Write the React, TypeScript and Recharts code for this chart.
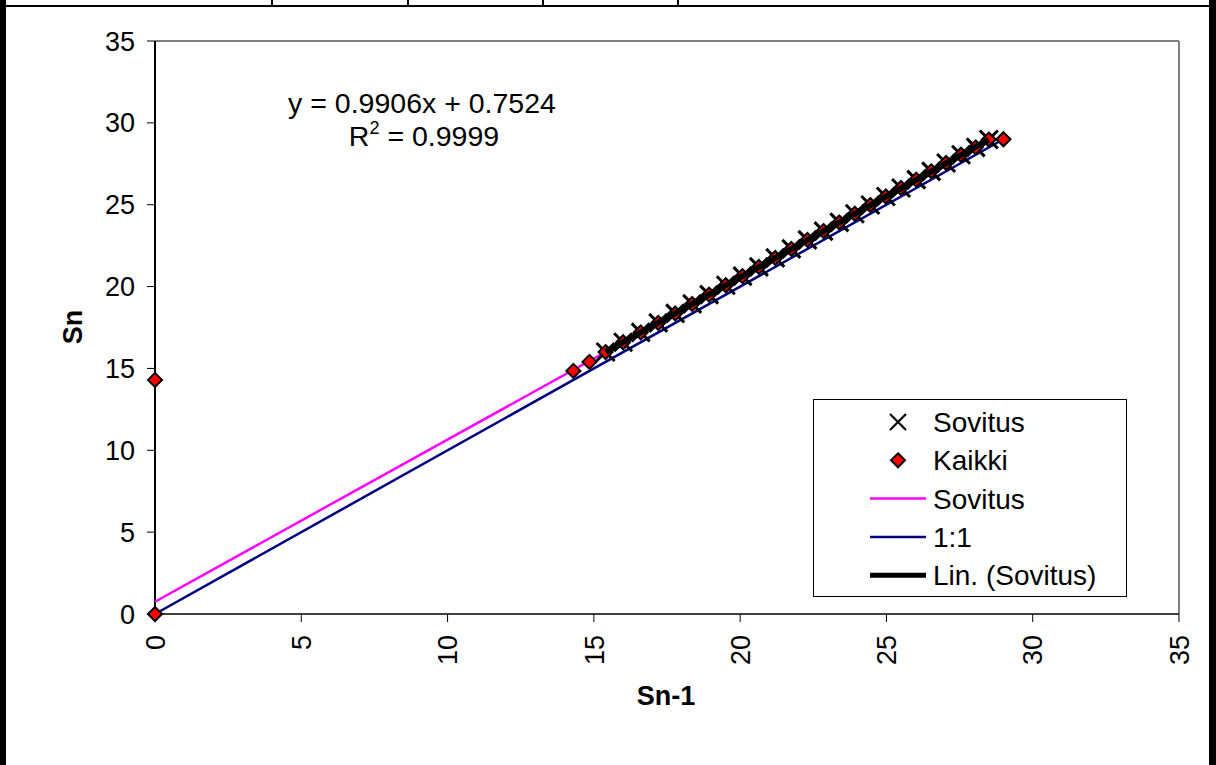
import { ScatterChart, Scatter, XAxis, YAxis, ReferenceLine, Legend, Label } from "recharts";

const FONT = "Arial, 'Liberation Sans', sans-serif";

// Sn-1 / Sn for the fitted points (X markers)
const sovitusSn1 = [15.4, 16.0, 16.6, 17.2, 17.78, 18.36, 18.94, 19.51, 20.08, 20.64, 21.2, 21.75, 22.3, 22.85, 23.39, 23.92, 24.45, 24.98, 25.5, 26.02, 26.53, 27.04, 27.55, 28.05, 28.5];
const sovitusSn = [16.0, 16.6, 17.2, 17.78, 18.36, 18.94, 19.51, 20.08, 20.64, 21.2, 21.75, 22.3, 22.85, 23.39, 23.92, 24.45, 24.98, 25.5, 26.02, 26.53, 27.04, 27.55, 28.05, 28.5, 28.98];

// extra points only in "Kaikki"
const kaikkiStartSn1 = [0, 0, 14.3, 14.85];
const kaikkiStartSn = [0, 14.3, 14.85, 15.4];
const kaikkiEndSn1 = [29.0];
const kaikkiEndSn = [29.0];

// line endpoints
const fitLineX = [0, 28.5];
const fitLineY = [0.75, 28.98];
const oneToOneX = [0, 29];
const oneToOneY = [0, 29];
const trendX = [15.4, 28.5];
const trendY = [16.01, 28.98];

const ticks = [0, 5, 10, 15, 20, 25, 30, 35];

const zip = (xs: number[], ys: number[]) => xs.map((x, i) => ({ x, y: ys[i] }));

const sovitus = zip(sovitusSn1, sovitusSn);
const kaikki = [...zip(kaikkiStartSn1, kaikkiStartSn), ...sovitus, ...zip(kaikkiEndSn1, kaikkiEndSn)];
const fitLine = zip(fitLineX, fitLineY);
const oneToOne = zip(oneToOneX, oneToOneY);
const trend = zip(trendX, trendY);

const legendItems = [
  { label: "Sovitus", kind: "x" },
  { label: "Kaikki", kind: "diamond" },
  { label: "Sovitus", kind: "line", color: "#ff00ff", width: 2.5 },
  { label: "1:1", kind: "line", color: "#000080", width: 2.5 },
  { label: "Lin. (Sovitus)", kind: "line", color: "#000", width: 5 },
];

const Cross = (cx: number, cy: number, r: number, w = 3) => (
  <path d={`M${cx - r},${cy - r}L${cx + r},${cy + r}M${cx + r},${cy - r}L${cx - r},${cy + r}`} stroke="#000" strokeWidth={w} fill="none" />
);

const Diamond = (cx: number, cy: number, r: number) => (
  <polygon points={`${cx},${cy - r} ${cx + r},${cy} ${cx},${cy + r} ${cx - r},${cy}`} fill="#ff0000" stroke="#000" strokeWidth={2} />
);

const noShape = () => <g />;

function XTick({ x, y, payload }: any) {
  return (
    <text x={x} y={y} transform={`rotate(-90 ${x} ${y})`} textAnchor="end" dy="0.36em" fontSize={27} fontFamily={FONT} fill="#000">
      {payload.value}
    </text>
  );
}

function LegendBox() {
  return (
    <div style={{ width: 314, height: 198, border: "1px solid #000", boxSizing: "border-box", background: "#fff" }}>
      <svg width={312} height={196}>
        {legendItems.map((it, i) => {
          const cy = 22 + i * 38.3;
          return (
            <g key={i}>
              {it.kind === "x" && Cross(84, cy, 8, 2.2)}
              {it.kind === "diamond" && Diamond(84, cy, 7)}
              {it.kind === "line" && <line x1={56} x2={112} y1={cy} y2={cy} stroke={it.color} strokeWidth={it.width} />}
              <text x={119} y={cy} dy="0.36em" fontSize={28} fontFamily={FONT} fill="#000">{it.label}</text>
            </g>
          );
        })}
      </svg>
    </div>
  );
}

export default function App() {
  return (
    <div style={{ position: "absolute", left: 0, top: 0, width: 1216, height: 765, background: "#fff", overflow: "hidden" }}>
      {/* sheet cell borders around the chart */}
      <div style={{ position: "absolute", left: 0, top: 5, width: 1216, height: 2, background: "#000" }} />
      {[272, 408, 543, 678].map((x) => (
        <div key={x} style={{ position: "absolute", left: x - 1, top: 0, width: 2, height: 6, background: "#000" }} />
      ))}
      <div style={{ position: "absolute", left: 0, top: 0, width: 6, height: 765, background: "#000" }} />
      <div style={{ position: "absolute", left: 1209, top: 0, width: 7, height: 765, background: "#000" }} />

      <div style={{ position: "absolute", left: 0, top: 0 }}>
        <ScatterChart width={1216} height={765} margin={{ top: 41, right: 37, bottom: 51, left: 0 }}>
          <XAxis
            type="number"
            dataKey="x"
            domain={[0, 35]}
            ticks={ticks}
            height={100}
            tickSize={8}
            tickMargin={13}
            axisLine={{ stroke: "#404040", strokeWidth: 2 }}
            tickLine={{ stroke: "#000" }}
            tick={<XTick />}
            interval={0}
          >
            <Label
              content={() => (
                <text x={666} y={705} textAnchor="middle" fontSize={27} fontWeight="bold" fontFamily={FONT} fill="#000">Sn-1</text>
              )}
            />
          </XAxis>
          <YAxis
            type="number"
            dataKey="y"
            domain={[0, 35]}
            ticks={ticks}
            width={155}
            tickSize={8}
            tickMargin={12}
            axisLine={{ stroke: "#000", strokeWidth: 2 }}
            tickLine={{ stroke: "#000" }}
            tick={{ fill: "#000", fontSize: 27, fontFamily: FONT }}
            interval={0}
          >
            <Label
              content={() => (
                <text x={72} y={327} transform="rotate(-90 72 327)" textAnchor="middle" dy="0.36em" fontSize={27} fontWeight="bold" fontFamily={FONT} fill="#000">Sn</text>
              )}
            />
          </YAxis>
          <ReferenceLine y={35} stroke="#808080" strokeWidth={2} />
          <ReferenceLine x={35} stroke="#808080" strokeWidth={2} />
          <Scatter name="1:1" data={oneToOne} line={{ stroke: "#000080", strokeWidth: 2.5 }} shape={noShape} isAnimationActive={false} />
          <Scatter name="Sovitus line" data={fitLine} line={{ stroke: "#ff00ff", strokeWidth: 2.5 }} shape={noShape} isAnimationActive={false} />
          <Scatter name="Sovitus" data={sovitus} shape={(p: any) => Cross(p.cx, p.cy, 9, 3)} isAnimationActive={false} />
          <Scatter name="Kaikki" data={kaikki} shape={(p: any) => Diamond(p.cx, p.cy, 7)} isAnimationActive={false} />
          <Scatter name="Lin. (Sovitus)" data={trend} line={{ stroke: "#000", strokeWidth: 6 }} shape={noShape} isAnimationActive={false} />
          <Legend
            layout="vertical"
            align="center"
            verticalAlign="middle"
            width={314}
            height={198}
            wrapperStyle={{ left: 813, top: 399 }}
            content={() => <LegendBox />}
          />
        </ScatterChart>
      </div>

      <svg style={{ position: "absolute", left: 0, top: 0, pointerEvents: "none" }} width={1216} height={765}>
        <text x={422} y={113} textAnchor="middle" fontSize={28.5} fontFamily={FONT} fill="#000">y = 0.9906x + 0.7524</text>
        <text x={424} y={146} textAnchor="middle" fontSize={28.5} fontFamily={FONT} fill="#000">
          R<tspan dy={-12} fontSize={18}>2</tspan>
          <tspan dy={12}> = 0.9999</tspan>
        </text>
      </svg>
    </div>
  );
}
